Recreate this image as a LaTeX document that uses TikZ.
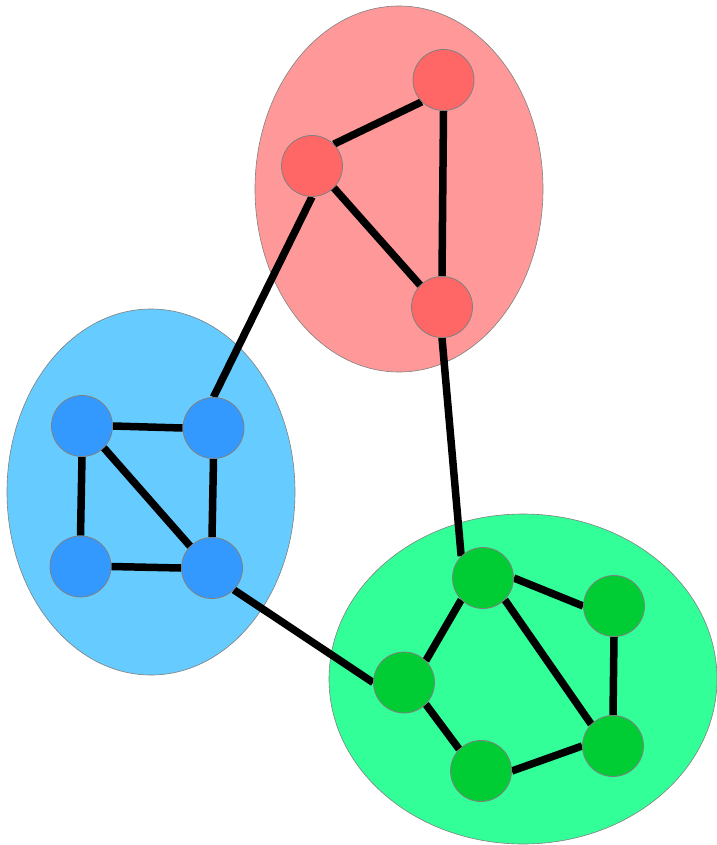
\documentclass[tikz,border=0pt]{standalone}
\definecolor{redell}{HTML}{FF9999}
\definecolor{rednode}{HTML}{FF6666}
\definecolor{blueell}{HTML}{66CCFF}
\definecolor{bluenode}{HTML}{3399FF}
\definecolor{greenell}{HTML}{33FF99}
\definecolor{greennode}{HTML}{00CC33}
\pgfdeclarelayer{bg}
\pgfdeclarelayer{edges}
\pgfsetlayers{bg,edges,main}
\tikzset{
  ell/.style={draw=gray, line width=0.6pt},
  vtx/.style={circle, draw=gray, line width=0.8pt, minimum size=61pt, inner sep=0pt},
  edge/.style={line width=7.5pt, black}
}
\begin{document}
\begin{tikzpicture}[x=1pt,y=-1pt]
\useasboundingbox (0,0) rectangle (716,845);
% ellipses
\begin{pgfonlayer}{bg}
\path[ell, fill=redell] (399,189) ellipse [x radius=144, y radius=183];
\path[ell, fill=blueell] (151,492) ellipse [x radius=144, y radius=183];
\path[ell, fill=greenell] (523,679) ellipse [x radius=194, y radius=165];
\end{pgfonlayer}
% nodes
\node[vtx, fill=rednode] (r1) at (443.5,80) {};
\node[vtx, fill=rednode] (r2) at (312,166) {};
\node[vtx, fill=rednode] (r3) at (442,307) {};
\node[vtx, fill=bluenode] (b1) at (82,426) {};
\node[vtx, fill=bluenode] (b2) at (213.5,428) {};
\node[vtx, fill=bluenode] (b3) at (80.5,566.5) {};
\node[vtx, fill=bluenode] (b4) at (212,568) {};
\node[vtx, fill=greennode] (g1) at (483,578) {};
\node[vtx, fill=greennode] (g2) at (614,606) {};
\node[vtx, fill=greennode] (g3) at (404,682.5) {};
\node[vtx, fill=greennode] (g4) at (613,746) {};
\node[vtx, fill=greennode] (g5) at (481,771) {};
% edges
\begin{pgfonlayer}{edges}
\draw[edge] (r2.north east) -- (r1.south west);
\draw[edge] (r2.south east) -- (r3.north west);
\draw[edge] (r1.south) -- (r3.north);
\draw[edge] (r2.south) -- (b2.north);
\draw[edge] (r3.south) -- (g1.north west);
\draw[edge] (b1.east) -- (b2.west);
\draw[edge] (b1.south) -- (b3.north);
\draw[edge] (b3.east) -- (b4.west);
\draw[edge] (b2.south) -- (b4.north);
\draw[edge] (b1.south east) -- (b4.north west);
\draw[edge] (b4.south east) -- (g3.west);
\draw[edge] (g1.east) -- (g2.west);
\draw[edge] (g1.south west) -- (g3.north east);
\draw[edge] (g1.south east) -- (g4.north west);
\draw[edge] (g2.south) -- (g4.north);
\draw[edge] (g3.south east) -- (g5.north west);
\draw[edge] (g5.east) -- (g4.west);
\end{pgfonlayer}
\end{tikzpicture}
\end{document}
